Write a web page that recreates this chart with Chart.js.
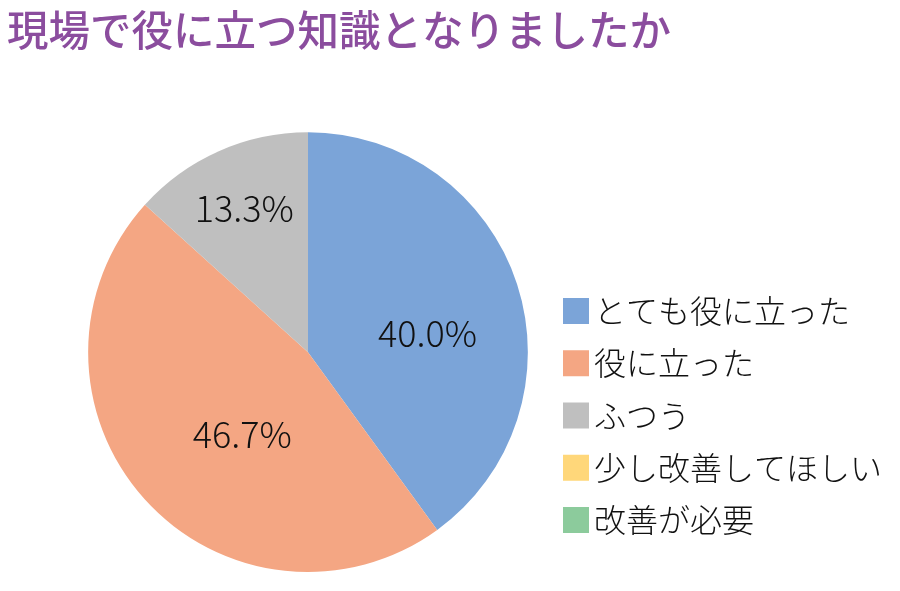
<!DOCTYPE html>
<html lang="ja">
<head>
<meta charset="utf-8">
<script src="https://cdn.jsdelivr.net/npm/chart.js@4.4.1/dist/chart.umd.min.js"></script>
<style>
  html, body { margin: 0; padding: 0; background: #ffffff; }
  #wrap { width: 900px; height: 591px; position: relative; }
</style>
</head>
<body>
<div id="wrap"><canvas id="c"></canvas></div>
<script>
// ---- data ----
const TITLE = '現場で役に立つ知識となりましたか';
const categories = ['とても役に立った', '役に立った', 'ふつう', '少し改善してほしい', '改善が必要'];
const values = [40.0, 46.7, 13.3, 0, 0];
const colors = ['#7BA4D8', '#F4A683', '#BFBFBF', '#FFD77A', '#8CCB9C'];

// ---- label placement (style) ----
const LABEL_DIST = [0.55, 0.48, 0.715, 0.6, 0.6];
const LABEL_ANGLE_SHIFT = [9, -9.5, 0, 0, 0];
const LEGEND_SPACE = 291;

const FONT = "'Noto Sans CJK JP', 'Noto Sans', sans-serif";

const reserveLegend = {
  id: 'reserveLegend',
  afterLayout(chart) {
    const a = chart.chartArea;
    a.right -= LEGEND_SPACE;
    a.width = a.right - a.left;
  }
};

const sliceLabels = {
  id: 'sliceLabels',
  afterDatasetsDraw(chart) {
    const ctx = chart.ctx;
    const meta = chart.getDatasetMeta(0);
    const data = chart.data.datasets[0].data;
    ctx.save();
    ctx.font = '300 36px ' + FONT;
    ctx.fillStyle = '#111111';
    ctx.textAlign = 'center';
    ctx.textBaseline = 'middle';
    meta.data.forEach((arc, i) => {
      if (!data[i]) return;
      const p = arc.getProps(['x', 'y', 'startAngle', 'endAngle', 'outerRadius']);
      const a = (p.startAngle + p.endAngle) / 2 + LABEL_ANGLE_SHIFT[i] * Math.PI / 180;
      const r = p.outerRadius * LABEL_DIST[i];
      ctx.fillText(data[i].toFixed(1) + '%', p.x + Math.cos(a) * r, p.y + Math.sin(a) * r);
    });
    ctx.restore();
  }
};

const sideLegend = {
  id: 'sideLegend',
  afterDraw(chart) {
    const ctx = chart.ctx;
    const ds = chart.data.datasets[0];
    const boxX = chart.chartArea.right - 46;
    const top = 298, step = 52.25, box = 26;
    ctx.save();
    ctx.font = '300 32px ' + FONT;
    ctx.textAlign = 'left';
    ctx.textBaseline = 'middle';
    chart.data.labels.forEach((lab, i) => {
      const y = top + step * i;
      ctx.fillStyle = ds.backgroundColor[i];
      ctx.fillRect(boxX, y, box, box);
      ctx.fillStyle = '#111111';
      ctx.fillText(lab, boxX + box + 5, y + box / 2);
    });
    ctx.restore();
  }
};

new Chart(document.getElementById('c'), {
  type: 'pie',
  data: {
    labels: categories,
    datasets: [{
      data: values,
      backgroundColor: colors,
      borderWidth: 0
    }]
  },
  options: {
    responsive: true,
    maintainAspectRatio: false,
    devicePixelRatio: 1,
    animation: false,
    layout: { padding: { top: 5, left: 7, right: 0, bottom: 19 } },
    plugins: {
      legend: { display: false },
      tooltip: { enabled: false },
      title: {
        display: true,
        text: TITLE,
        align: 'start',
        color: '#8B4D9E',
        font: { size: 41.5, family: FONT, weight: '500' },
        padding: { top: 0, bottom: 77.5 }
      }
    }
  },
  plugins: [reserveLegend, sliceLabels, sideLegend]
});
</script>
</body>
</html>
